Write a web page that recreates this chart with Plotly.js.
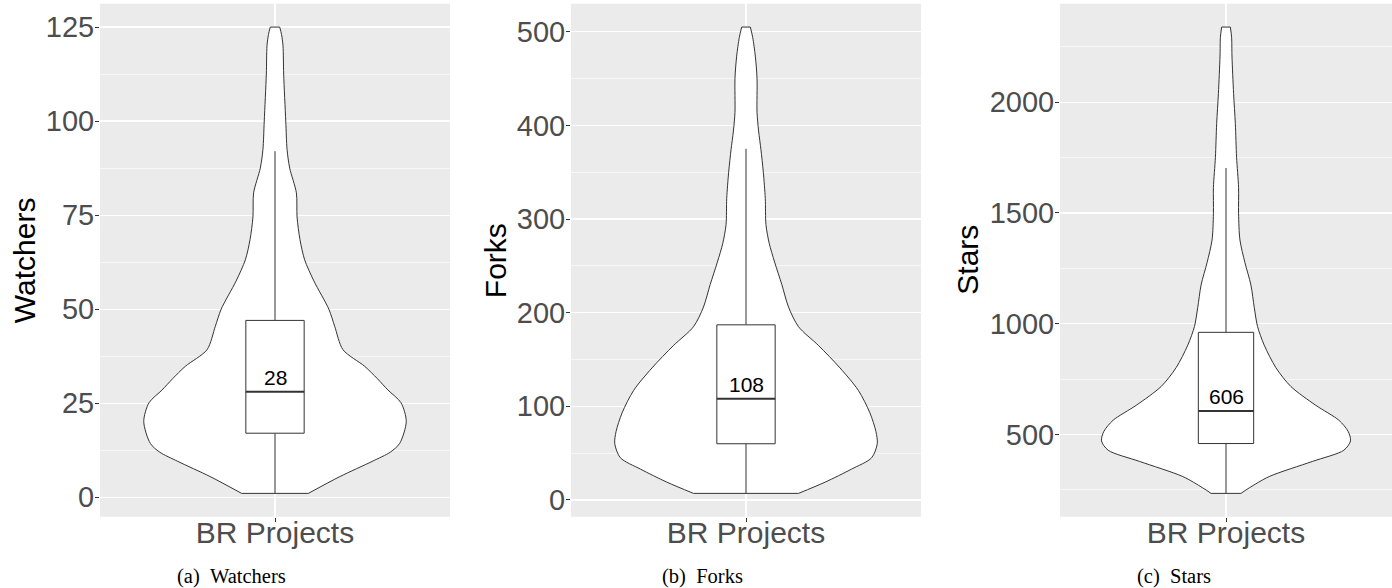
<!DOCTYPE html>
<html>
<head>
<meta charset="utf-8">
<script src="https://cdn.plot.ly/plotly-3.0.1.min.js"></script>
<style>html,body{margin:0;padding:0;background:#fff}#chart{width:1392px;height:588px}</style>
</head>
<body>
<div id="chart"></div>
<script>
// ---- data ----
const categories = ['BR Projects'];
const metrics = ['Watchers', 'Forks', 'Stars'];
const captions = ['(a)\u2002Watchers', '(b)\u2002Forks', '(c)\u2002Stars'];

// violin outlines: value levels and relative density (1 = widest point)
const watchersY = [1, 5.5, 9.5, 12, 14.3, 20.1, 25.1, 28.5, 31.5, 34.8, 39.2, 45.4, 50, 57.5, 63.1, 68.5, 74.5, 80.9, 87.5, 92.4, 100, 112.5, 120, 123, 125];
const watchersDensity = [0.254, 0.496, 0.74, 0.88, 0.95, 1.0, 0.96, 0.86, 0.78, 0.683, 0.518, 0.455, 0.41, 0.296, 0.226, 0.19, 0.168, 0.163, 0.112, 0.092, 0.082, 0.066, 0.061, 0.05, 0.036];

const forksY = [7, 19, 33, 45, 60, 73, 93, 117, 141, 165, 185, 206, 230, 254, 274, 294, 322, 350, 374, 394, 414, 450, 474, 494, 505];
const forksDensity = [0.40, 0.603, 0.805, 0.957, 1.0, 0.99, 0.944, 0.856, 0.716, 0.552, 0.40, 0.324, 0.273, 0.218, 0.177, 0.152, 0.147, 0.132, 0.114, 0.096, 0.084, 0.084, 0.071, 0.051, 0.033];

const starsY = [234, 259, 310, 378, 429, 471, 514, 564, 632, 717, 802, 903, 988, 1073, 1175, 1276, 1378, 1497, 1615, 1751, 1903, 2039, 2208, 2293, 2339];
const starsDensity = [0.12, 0.187, 0.347, 0.693, 0.947, 1.0, 0.981, 0.907, 0.72, 0.52, 0.40, 0.307, 0.253, 0.227, 0.2, 0.152, 0.112, 0.101, 0.101, 0.085, 0.075, 0.061, 0.048, 0.045, 0.035];

// box statistics
const lowerWhisker = [1, 7, 234];
const q1 = [17, 60, 459];
const medians = [28, 108, 606];
const q3 = [47, 187, 961];
const upperWhisker = [92, 375, 1703];

// axis tick steps
const majorStep = [25, 100, 500];

// ---- build ----
const valueSets = [watchersY, forksY, starsY];
const densitySets = [watchersDensity, forksDensity, starsDensity];

const W = 1392, H = 588;
const xDomains = [[100 / W, 450 / W], [571 / W, 921 / W], [1060 / W, 1]];
const yDomain = [1 - 516.7 / H, 1 - 3.75 / H];
const captionX = [231.3, 702.5, 1174];
const titleX = [24, 495, 967.5];
const halfViolin = 0.45, halfBox = 0.1;
const lineCol = '#333333';
const sans = 'Liberation Sans, Arial, sans-serif';

const traces = [];
const layout = {
  width: W, height: H,
  margin: {l: 0, r: 0, t: 0, b: 0},
  paper_bgcolor: '#ffffff',
  plot_bgcolor: '#EBEBEB',
  showlegend: false,
  annotations: []
};

function seg(xs, ys, xa, ya, width) {
  return {type: 'scatter', mode: 'lines', x: xs, y: ys, xaxis: xa, yaxis: ya,
          line: {color: lineCol, width: width}, hoverinfo: 'skip'};
}

for (let p = 0; p < 3; p++) {
  const suf = p === 0 ? '' : String(p + 1);
  const xa = 'x' + suf, ya = 'y' + suf;
  const ys = valueSets[p], ds = densitySets[p];
  const n = ys.length;
  const leftX = ds.map(d => 1 - halfViolin * d);
  const rightX = ds.map(d => 1 + halfViolin * d);
  // violin: left edge, then right edge filled across to the left edge
  traces.push({
    type: 'scatter', mode: 'lines', x: leftX, y: ys, xaxis: xa, yaxis: ya,
    line: {color: lineCol, width: 1, shape: 'spline', smoothing: 0.8}, hoverinfo: 'skip'
  });
  traces.push({
    type: 'scatter', mode: 'lines', x: rightX, y: ys, xaxis: xa, yaxis: ya,
    fill: 'tonextx', fillcolor: '#ffffff',
    line: {color: lineCol, width: 1, shape: 'spline', smoothing: 0.8}, hoverinfo: 'skip'
  });
  // flat trimmed ends of the violin
  traces.push(seg([leftX[0], rightX[0]], [ys[0], ys[0]], xa, ya, 1));
  traces.push(seg([leftX[n - 1], rightX[n - 1]], [ys[n - 1], ys[n - 1]], xa, ya, 1));
  // boxplot: whiskers, box, median
  traces.push(seg([1, 1], [lowerWhisker[p], q1[p]], xa, ya, 1));
  traces.push(seg([1, 1], [q3[p], upperWhisker[p]], xa, ya, 1));
  traces.push({
    type: 'scatter', mode: 'lines', xaxis: xa, yaxis: ya,
    x: [1 - halfBox, 1 + halfBox, 1 + halfBox, 1 - halfBox, 1 - halfBox],
    y: [q1[p], q1[p], q3[p], q3[p], q1[p]],
    fill: 'toself', fillcolor: '#ffffff', line: {color: lineCol, width: 1}, hoverinfo: 'skip'
  });
  traces.push(seg([1 - halfBox, 1 + halfBox], [medians[p], medians[p]], xa, ya, 2));

  const mn = Math.min(...ys), mx = Math.max(...ys);
  const pad = 0.05 * (mx - mn);
  layout['xaxis' + suf] = {
    domain: xDomains[p], anchor: ya, range: [0.4, 1.6],
    tickvals: [1], ticktext: categories,
    showgrid: true, gridcolor: '#ffffff', gridwidth: 1.2, zeroline: false,
    ticks: 'outside', ticklen: 4, tickcolor: lineCol, tickwidth: 1,
    ticklabelstandoff: -15,
    tickfont: {family: sans, size: 30, color: '#4D4D4D'},
    showline: false, fixedrange: true
  };
  layout['yaxis' + suf] = {
    domain: yDomain, anchor: xa, range: [mn - pad, mx + pad],
    tick0: 0, dtick: majorStep[p],
    showgrid: true, gridcolor: '#ffffff', gridwidth: 1.2, zeroline: false,
    minor: {tick0: 0, dtick: majorStep[p] / 2, showgrid: true, gridcolor: '#ffffff', gridwidth: 0.6, ticks: ''},
    ticks: 'outside', ticklen: 4, tickcolor: lineCol, tickwidth: 1,
    ticklabelstandoff: -5,
    tickfont: {family: sans, size: 29, color: '#4D4D4D'},
    showline: false, fixedrange: true
  };
  // axis title
  layout.annotations.push({
    xref: 'paper', yref: 'paper', x: titleX[p] / W, y: 1 - 260.2 / H, text: metrics[p],
    textangle: -90, showarrow: false, xanchor: 'center', yanchor: 'middle',
    font: {family: sans, size: 30, color: '#000000'}
  });
  // median label
  layout.annotations.push({
    xref: xa, yref: ya, x: 1, y: medians[p], text: String(medians[p]),
    showarrow: false, yanchor: 'bottom', xanchor: 'center', yshift: 1,
    font: {family: sans, size: 21, color: '#000000'}
  });
  // sub-figure caption
  layout.annotations.push({
    xref: 'paper', yref: 'paper', x: captionX[p] / W, y: 1 - 576.5 / H, text: captions[p],
    showarrow: false, yanchor: 'middle', xanchor: 'center',
    font: {family: 'Liberation Serif, Times New Roman, serif', size: 20.5, color: '#000000'}
  });
}

Plotly.newPlot('chart', traces, layout, {staticPlot: true, displayModeBar: false});
</script>
</body>
</html>
